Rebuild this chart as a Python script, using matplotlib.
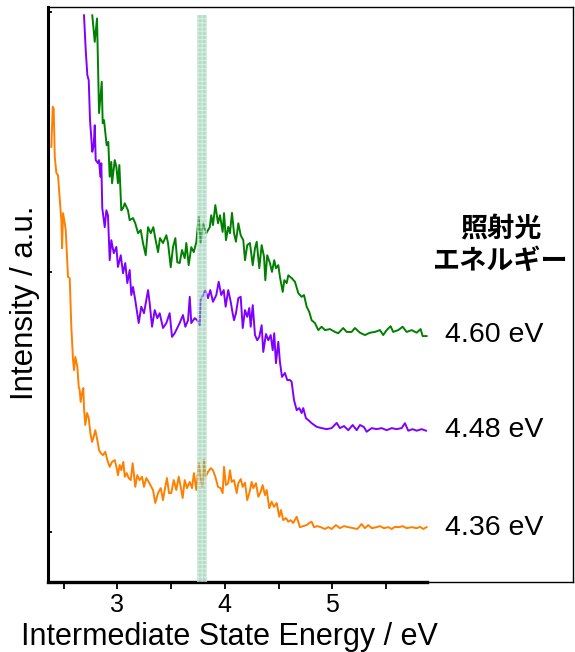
import numpy as np
import matplotlib
matplotlib.use("Agg")
import matplotlib.pyplot as plt

# intermediate state energy (eV) / intensity (a.u.)
green_e = [2.767, 2.790, 2.811, 2.830, 2.855, 2.864, 2.876, 2.901, 2.916, 2.929, 2.944, 2.951,
           2.976, 2.991, 3.006, 3.019, 3.037, 3.053, 3.069, 3.099, 3.115, 3.146, 3.167, 3.193,
           3.218, 3.239, 3.264, 3.286, 3.311, 3.335, 3.353, 3.379, 3.397, 3.425, 3.456, 3.472,
           3.497, 3.518, 3.540, 3.558, 3.580, 3.602, 3.627, 3.642, 3.664, 3.688, 3.711, 3.735,
           3.757, 3.776, 3.797, 3.828, 3.860, 3.874, 3.890, 3.912, 3.937, 3.955, 3.980, 3.993,
           4.011, 4.032, 4.048, 4.067, 4.086, 4.104, 4.126, 4.148, 4.172, 4.188, 4.209, 4.234,
           4.260, 4.281, 4.297, 4.321, 4.343, 4.365, 4.377, 4.395, 4.420, 4.439, 4.460, 4.476,
           4.498, 4.513, 4.539, 4.554, 4.576, 4.591, 4.622, 4.653, 4.684, 4.715, 4.737, 4.762,
           4.786, 4.808, 4.839, 4.870, 4.901, 4.932, 4.979, 5.025, 5.056, 5.102, 5.134, 5.180,
           5.211, 5.258, 5.304, 5.351, 5.397, 5.444, 5.474, 5.506, 5.543, 5.567, 5.614, 5.655,
           5.692, 5.739, 5.785, 5.822, 5.841, 5.878]
green_i = [1.988, 1.886, 1.976, 1.612, 1.732, 1.573, 1.585, 1.488, 1.501, 1.367, 1.424, 1.342,
           1.431, 1.405, 1.342, 1.412, 1.238, 1.246, 1.265, 1.238, 1.200, 1.208, 1.188, 1.150,
           1.162, 1.112, 1.065, 1.173, 1.150, 1.173, 1.131, 1.077, 1.131, 1.112, 1.142, 1.112,
           1.019, 1.096, 1.131, 1.038, 1.035, 1.085, 1.054, 1.112, 1.027, 1.096, 1.077, 1.115,
           1.212, 1.112, 1.188, 1.150, 1.173, 1.219, 1.181, 1.258, 1.188, 1.219, 1.155, 1.227,
           1.123, 1.174, 1.150, 1.228, 1.150, 1.117, 1.188, 1.142, 1.123, 1.046, 1.104, 1.112,
           1.027, 1.092, 1.117, 1.015, 1.104, 1.059, 0.969, 1.065, 1.035, 1.001, 1.046, 1.015,
           1.027, 0.982, 0.924, 0.969, 0.958, 0.988, 0.977, 0.963, 0.919, 0.905, 0.912, 0.867,
           0.847, 0.815, 0.804, 0.777, 0.790, 0.777, 0.781, 0.770, 0.765, 0.785, 0.770, 0.770,
           0.785, 0.767, 0.758, 0.767, 0.770, 0.777, 0.758, 0.777, 0.792, 0.770, 0.777, 0.790,
           0.770, 0.777, 0.767, 0.781, 0.754, 0.754]

purple_e = [2.690, 2.706, 2.721, 2.734, 2.746, 2.767, 2.780, 2.790, 2.799, 2.820, 2.830, 2.842,
            2.851, 2.860, 2.883, 2.898, 2.913, 2.929, 2.944, 2.967, 2.991, 3.006, 3.032, 3.053,
            3.074, 3.093, 3.115, 3.130, 3.146, 3.167, 3.199, 3.223, 3.248, 3.286, 3.301, 3.323,
            3.348, 3.372, 3.394, 3.425, 3.456, 3.487, 3.509, 3.534, 3.558, 3.580, 3.611, 3.633,
            3.658, 3.674, 3.688, 3.720, 3.744, 3.767, 3.776, 3.797, 3.819, 3.844, 3.865, 3.890,
            3.921, 3.943, 3.967, 3.990, 4.008, 4.032, 4.055, 4.073, 4.086, 4.104, 4.126, 4.148,
            4.167, 4.188, 4.209, 4.228, 4.241, 4.260, 4.281, 4.302, 4.321, 4.343, 4.358, 4.383,
            4.405, 4.427, 4.446, 4.460, 4.476, 4.498, 4.513, 4.532, 4.560, 4.581, 4.607, 4.622,
            4.644, 4.669, 4.693, 4.715, 4.730, 4.755, 4.777, 4.808, 4.855, 4.901, 4.948, 4.994,
            5.041, 5.071, 5.109, 5.149, 5.190, 5.227, 5.258, 5.295, 5.320, 5.367, 5.413, 5.460,
            5.506, 5.553, 5.599, 5.646, 5.676, 5.707, 5.748, 5.785, 5.832, 5.872]
purple_i = [1.988, 1.854, 1.758, 1.738, 1.585, 1.463, 1.488, 1.565, 1.431, 1.419, 1.431, 1.367,
            1.419, 1.246, 1.173, 1.238, 1.219, 1.046, 1.123, 1.073, 1.097, 1.020, 1.065, 0.996,
            1.035, 0.958, 1.008, 0.912, 0.943, 0.892, 0.804, 0.867, 0.842, 0.931, 0.881, 0.790,
            0.854, 0.823, 0.842, 0.785, 0.804, 0.842, 0.751, 0.765, 0.785, 0.804, 0.835, 0.790,
            0.815, 0.905, 0.804, 0.823, 0.815, 0.796, 0.892, 0.912, 0.931, 0.900, 0.931, 0.886,
            0.912, 0.963, 0.912, 0.931, 0.867, 0.931, 0.886, 0.842, 0.815, 0.842, 0.900, 0.905,
            0.785, 0.854, 0.828, 0.862, 0.790, 0.873, 0.758, 0.738, 0.751, 0.796, 0.693, 0.762,
            0.738, 0.758, 0.700, 0.765, 0.650, 0.732, 0.655, 0.597, 0.612, 0.585, 0.585, 0.578,
            0.508, 0.469, 0.477, 0.458, 0.477, 0.438, 0.431, 0.419, 0.405, 0.400, 0.396, 0.400,
            0.420, 0.400, 0.408, 0.392, 0.412, 0.392, 0.412, 0.404, 0.386, 0.400, 0.396, 0.400,
            0.392, 0.400, 0.396, 0.400, 0.419, 0.390, 0.396, 0.390, 0.396, 0.390]

orange_e = [2.386, 2.399, 2.408, 2.418, 2.433, 2.448, 2.467, 2.479, 2.486, 2.495, 2.511, 2.520,
            2.541, 2.557, 2.572, 2.588, 2.597, 2.609, 2.628, 2.641, 2.650, 2.659, 2.672, 2.684,
            2.690, 2.702, 2.718, 2.734, 2.749, 2.765, 2.780, 2.795, 2.814, 2.830, 2.846, 2.867,
            2.888, 2.907, 2.929, 2.951, 2.976, 2.994, 3.006, 3.022, 3.037, 3.056, 3.069, 3.087,
            3.106, 3.125, 3.143, 3.155, 3.167, 3.186, 3.208, 3.230, 3.248, 3.270, 3.292, 3.316,
            3.332, 3.353, 3.379, 3.404, 3.425, 3.441, 3.462, 3.481, 3.502, 3.525, 3.549, 3.571,
            3.590, 3.608, 3.627, 3.648, 3.674, 3.695, 3.713, 3.735, 3.757, 3.776, 3.791, 3.807,
            3.822, 3.844, 3.869, 3.890, 3.912, 3.937, 3.962, 3.980, 3.993, 4.011, 4.032, 4.048,
            4.064, 4.086, 4.111, 4.126, 4.148, 4.167, 4.188, 4.209, 4.228, 4.250, 4.265, 4.290,
            4.312, 4.334, 4.352, 4.374, 4.390, 4.414, 4.436, 4.458, 4.483, 4.507, 4.523, 4.544,
            4.569, 4.591, 4.613, 4.637, 4.669, 4.699, 4.730, 4.762, 4.786, 4.808, 4.830, 4.860,
            4.892, 4.932, 4.963, 4.994, 5.034, 5.071, 5.109, 5.149, 5.195, 5.233, 5.273, 5.304,
            5.335, 5.367, 5.413, 5.444, 5.481, 5.521, 5.553, 5.583, 5.623, 5.655, 5.692, 5.739,
            5.785, 5.816, 5.847, 5.878]
orange_i = [1.482, 1.636, 1.630, 1.443, 1.381, 1.373, 1.265, 1.200, 1.092, 1.227, 1.188, 1.162,
            0.982, 0.977, 0.790, 0.662, 0.623, 0.674, 0.636, 0.559, 0.546, 0.501, 0.535, 0.554,
            0.477, 0.412, 0.458, 0.438, 0.381, 0.347, 0.367, 0.392, 0.354, 0.315, 0.304, 0.296,
            0.309, 0.277, 0.251, 0.270, 0.277, 0.246, 0.219, 0.258, 0.238, 0.270, 0.213, 0.227,
            0.208, 0.200, 0.265, 0.219, 0.174, 0.219, 0.200, 0.213, 0.174, 0.208, 0.193, 0.174,
            0.162, 0.112, 0.150, 0.169, 0.123, 0.162, 0.208, 0.150, 0.150, 0.200, 0.162, 0.213,
            0.174, 0.131, 0.200, 0.169, 0.193, 0.169, 0.227, 0.162, 0.265, 0.208, 0.174, 0.277,
            0.213, 0.232, 0.246, 0.238, 0.213, 0.174, 0.169, 0.150, 0.251, 0.181, 0.188, 0.238,
            0.193, 0.200, 0.150, 0.188, 0.204, 0.174, 0.190, 0.123, 0.150, 0.193, 0.169, 0.188,
            0.136, 0.155, 0.181, 0.142, 0.162, 0.092, 0.117, 0.097, 0.112, 0.059, 0.085, 0.046,
            0.054, 0.040, 0.046, 0.035, 0.059, 0.019, 0.023, 0.027, 0.035, 0.040, 0.019, 0.023,
            0.019, 0.012, 0.019, 0.012, 0.027, 0.015, 0.023, 0.019, 0.015, 0.012, 0.031, 0.015,
            0.027, 0.015, 0.019, 0.023, 0.015, 0.019, 0.012, 0.020, 0.019, 0.023, 0.015, 0.019,
            0.015, 0.020, 0.012, 0.019]

labels = ["4.60 eV", "4.48 eV", "4.36 eV"]
label_y = [0.758, 0.392, 0.015]
band = (3.745, 3.835)

latin = "Liberation Sans"
jp = ["Noto Sans CJK JP", "DejaVu Sans"]

fig = plt.figure(figsize=(5.75, 6.52), dpi=100)
ax = fig.add_axes([48 / 575, 70 / 652, 525 / 575, 575 / 652])

ax.plot(orange_e, orange_i, color="#ff8000", lw=1.4)
ax.plot(purple_e, purple_i, color="#8000ff", lw=1.4)
ax.plot(green_e, green_i, color="#008000", lw=1.4)

# highlighted band (semi-transparent, curves show through)
plt.rcParams["hatch.linewidth"] = 0.7
ax.axvspan(band[0], band[1], ymax=0.986, facecolor="#6dbd95", edgecolor="white",
           hatch="++++", lw=0, alpha=0.5, zorder=3)

xlo, xhi = 2.355, 7.24
ylo, yhi = -0.192, 2.02
ax.set_xlim(xlo, xhi)
ax.set_ylim(ylo, yhi)

ax.set_xticks([3, 4, 5])
ax.set_xticks([2.5, 3.5, 4.5, 5.5], minor=True)
ax.set_xticklabels(["3", "4", "5"], fontfamily=latin, fontsize=18)
ax.tick_params(axis="x", which="both", direction="out", length=5, width=1.3, pad=3)
ax.set_yticks([0, 1, 2])
ax.set_yticklabels([])
ax.tick_params(axis="y", direction="in", length=3, width=1.3)

for s in ["top", "right"]:
    ax.spines[s].set_linewidth(1.0)
ax.spines["left"].set_linewidth(2.2)
ax.spines["bottom"].set_linewidth(1.0)
# thicker bottom axis under the data range
xend = max(green_e)
ax.axhline(ylo, xmin=0, xmax=(xend - xlo) / (xhi - xlo), color="black", lw=2.4, clip_on=False)

for txt, yy in zip(labels, label_y):
    ax.text(6.048, yy, txt, fontfamily=latin, fontsize=20.5, va="center", ha="left")

ax.text(6.57, 1.169, "照射光", family=jp, fontsize=19.5, fontweight="bold", ha="center", va="center")
ax.text(6.57, 1.042, "エネルギー", family=jp, fontsize=19.5, fontweight="bold", ha="center", va="center")

fig.text(229 / 575, 1 - 645 / 652, "Intermediate State Energy / eV", fontfamily=latin,
         fontsize=22, ha="center", va="baseline")
fig.text(25 / 575, 1 - 303 / 652, "Intensity / a.u.", fontfamily=latin, fontsize=22.5,
         rotation=90, ha="center", va="center")

fig.savefig("out.png", dpi=100)
